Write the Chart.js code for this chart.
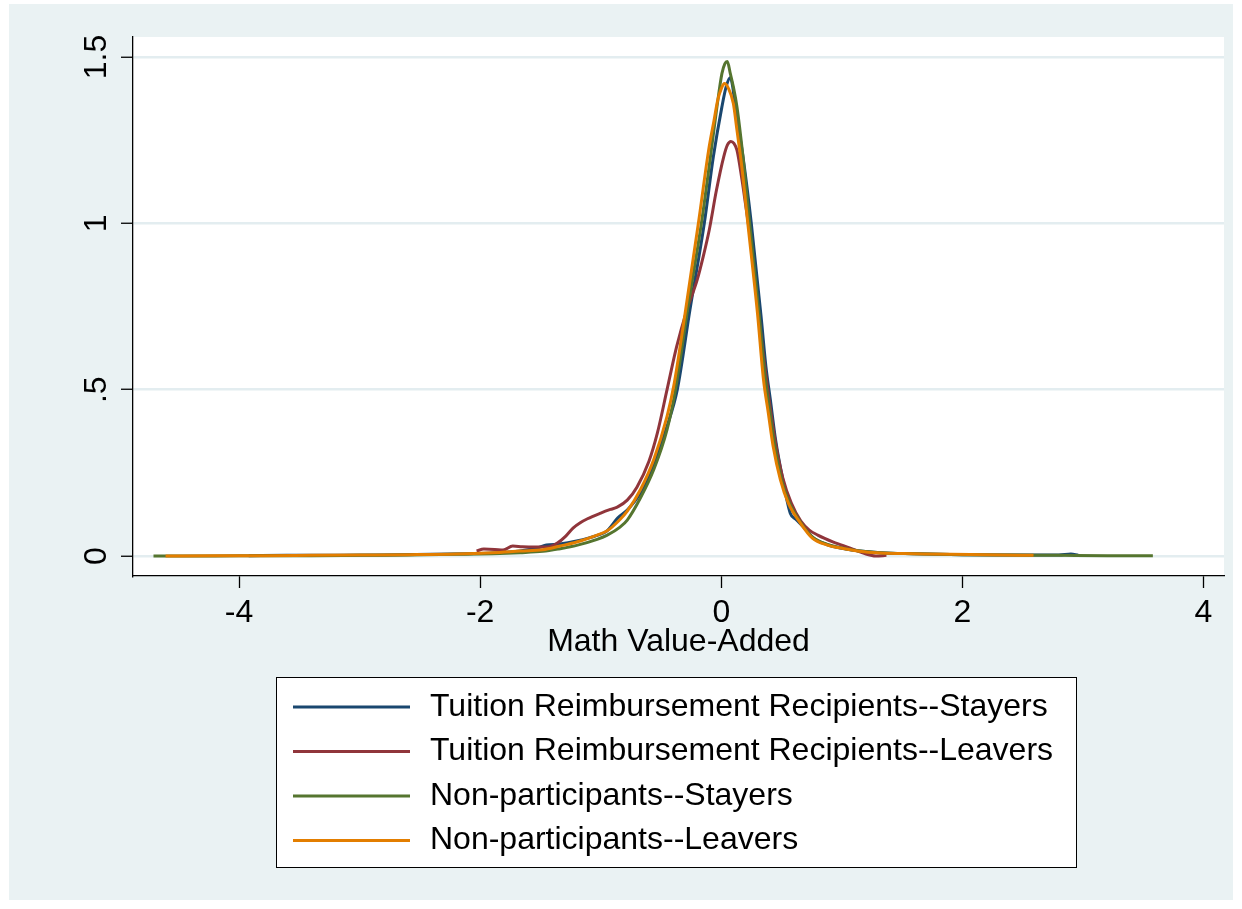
<!DOCTYPE html>
<html>
<head>
<meta charset="utf-8">
<title>Math Value-Added</title>
<script src="https://cdn.jsdelivr.net/npm/chart.js@4.4.1/dist/chart.umd.min.js"></script>
<style>
  html, body { margin: 0; padding: 0; background: #fff; }
  canvas { display: block; }
</style>
</head>
<body>
<canvas id="myChart" width="1242" height="909"></canvas>
<script>
// series names and colours (Stata s2color)
const seriesLabels = [
  'Tuition Reimbursement Recipients--Stayers',
  'Tuition Reimbursement Recipients--Leavers',
  'Non-participants--Stayers',
  'Non-participants--Leavers'
];
const seriesColors = ['#1a476f', '#90353b', '#55752f', '#e37e00'];

// kernel density estimates
const trStayersX = [-3.92, -3.6, -3.2, -2.8, -2.4, -2.1, -1.9, -1.67, -1.52, -1.45, -1.34, -1.2, -1.03, -0.95, -0.86, -0.78, -0.67, -0.56, -0.45, -0.365, -0.26, -0.141, -0.066, 0.005, 0.04, 0.075, 0.095, 0.116, 0.18, 0.249, 0.33, 0.37, 0.407, 0.45, 0.51, 0.573, 0.62, 0.7, 0.76, 0.88, 0.99, 1.13, 1.32, 1.6, 2.0, 2.4, 2.8, 2.9, 2.96];
const trStayersY = [0.001, 0.002, 0.002, 0.003, 0.005, 0.007, 0.009, 0.015, 0.025, 0.033, 0.036, 0.045, 0.062, 0.075, 0.114, 0.138, 0.19, 0.275, 0.39, 0.5, 0.74, 1.0, 1.2, 1.35, 1.41, 1.438, 1.41, 1.35, 1.2, 1.0, 0.72, 0.57, 0.47, 0.35, 0.23, 0.128, 0.11, 0.08, 0.055, 0.034, 0.024, 0.016, 0.01, 0.007, 0.004, 0.003, 0.003, 0.006, 0.003];

const trLeaversX = [-2.03, -1.97, -1.88, -1.81, -1.73, -1.65, -1.55, -1.44, -1.36, -1.29, -1.23, -1.17, -1.11, -1.0, -0.92, -0.863, -0.78, -0.7, -0.6, -0.53, -0.45, -0.37, -0.285, -0.2, -0.15, -0.1, -0.04, 0.02, 0.05, 0.08, 0.105, 0.13, 0.172, 0.2, 0.25, 0.3, 0.35, 0.4, 0.45, 0.51, 0.58, 0.66, 0.73, 0.8, 0.93, 1.07, 1.2, 1.28, 1.37];
const trLeaversY = [0.015, 0.021, 0.02, 0.018, 0.03, 0.028, 0.027, 0.027, 0.039, 0.06, 0.084, 0.1, 0.112, 0.129, 0.14, 0.147, 0.168, 0.207, 0.285, 0.37, 0.5, 0.63, 0.74, 0.83, 0.9, 0.98, 1.1, 1.2, 1.235, 1.246, 1.24, 1.22, 1.13, 1.06, 0.93, 0.76, 0.6, 0.46, 0.34, 0.235, 0.16, 0.105, 0.078, 0.063, 0.042, 0.024, 0.006, 0.0, 0.002];

const nonStayersX = [-4.71, -4.2, -3.8, -3.4, -3.0, -2.6, -2.2, -1.9, -1.67, -1.48, -1.34, -1.2, -1.03, -0.95, -0.84, -0.78, -0.67, -0.56, -0.45, -0.38, -0.28, -0.165, -0.09, -0.036, 0.005, 0.03, 0.05, 0.075, 0.1, 0.13, 0.18, 0.235, 0.31, 0.36, 0.4, 0.44, 0.5, 0.565, 0.66, 0.76, 0.88, 0.99, 1.13, 1.32, 1.6, 2.0, 2.4, 2.8, 3.2, 3.58];
const nonStayersY = [0.0, 0.0, 0.001, 0.001, 0.002, 0.003, 0.005, 0.007, 0.01, 0.014, 0.022, 0.032, 0.05, 0.062, 0.087, 0.108, 0.175, 0.26, 0.38, 0.5, 0.74, 1.0, 1.2, 1.35, 1.45, 1.48, 1.486, 1.45, 1.41, 1.35, 1.2, 1.0, 0.74, 0.55, 0.44, 0.34, 0.23, 0.16, 0.1, 0.056, 0.035, 0.025, 0.016, 0.01, 0.007, 0.004, 0.003, 0.002, 0.001, 0.001];

const nonLeaversX = [-4.61, -4.2, -3.8, -3.4, -3.0, -2.6, -2.2, -1.9, -1.67, -1.48, -1.34, -1.2, -1.03, -0.95, -0.84, -0.78, -0.67, -0.56, -0.45, -0.395, -0.3, -0.19, -0.105, -0.06, -0.03, 0.0, 0.025, 0.06, 0.1, 0.13, 0.17, 0.22, 0.3, 0.35, 0.39, 0.43, 0.49, 0.556, 0.656, 0.755, 0.88, 0.99, 1.13, 1.32, 1.6, 1.9, 2.2, 2.59];
const nonLeaversY = [0.0, 0.001, 0.001, 0.002, 0.003, 0.004, 0.006, 0.01, 0.015, 0.019, 0.03, 0.042, 0.063, 0.075, 0.11, 0.135, 0.2, 0.29, 0.42, 0.51, 0.73, 1.0, 1.22, 1.31, 1.37, 1.405, 1.42, 1.405, 1.36, 1.28, 1.17, 1.0, 0.73, 0.53, 0.43, 0.33, 0.23, 0.159, 0.099, 0.054, 0.033, 0.024, 0.015, 0.009, 0.007, 0.005, 0.004, 0.002];

// axis ticks
const xTickValues = [-4, -2, 0, 2, 4];
const yTickValues = [0, 0.5, 1, 1.5];
const yTickLabels = ['0', '.5', '1', '1.5'];

const fontFamily = "'Liberation Sans', Arial, sans-serif";
const textSize = 32;

function toPoints(xs, ys) {
  return xs.map((x, i) => ({ x: x, y: ys[i] }));
}

const seriesPoints = [
  toPoints(trStayersX, trStayersY),
  toPoints(trLeaversX, trLeaversY),
  toPoints(nonStayersX, nonStayersY),
  toPoints(nonLeaversX, nonLeaversY)
];

// stata draws later series on top
const drawOrder = [3, 2, 1, 0];

const datasets = seriesLabels.map((label, i) => ({
  label: label,
  data: seriesPoints[i],
  borderColor: seriesColors[i],
  backgroundColor: seriesColors[i],
  borderWidth: 3,
  pointRadius: 0,
  fill: false,
  cubicInterpolationMode: 'monotone',
  order: drawOrder[i]
}));

// light panel behind the white plot region
const panelPlugin = {
  id: 'panel',
  beforeDraw(chart) {
    const ctx = chart.ctx;
    const area = chart.chartArea;
    ctx.save();
    ctx.fillStyle = '#ffffff';
    ctx.fillRect(0, 0, chart.width, chart.height);
    ctx.fillStyle = '#eaf2f3';
    ctx.fillRect(9, 4, chart.width - 18, chart.height - 13);
    ctx.fillStyle = '#ffffff';
    ctx.fillRect(area.left, area.top, area.right - area.left, area.bottom - area.top);
    ctx.restore();
  }
};

// boxed legend in one column under the plot
const boxLegendPlugin = {
  id: 'boxLegend',
  afterDraw(chart) {
    const ctx = chart.ctx;
    ctx.save();
    ctx.fillStyle = '#ffffff';
    ctx.fillRect(276, 677, 801, 191);
    ctx.strokeStyle = '#000000';
    ctx.lineWidth = 1;
    ctx.strokeRect(276.5, 677.5, 800, 190);

    ctx.font = textSize + 'px ' + fontFamily;
    ctx.textBaseline = 'middle';
    ctx.textAlign = 'left';
    chart.data.datasets.forEach((ds, i) => {
      const y = 707 + i * 44.5;
      ctx.strokeStyle = ds.borderColor;
      ctx.lineWidth = 3;
      ctx.beginPath();
      ctx.moveTo(293, y);
      ctx.lineTo(410, y);
      ctx.stroke();
      ctx.fillStyle = '#000000';
      ctx.fillText(ds.label, 430, y);
    });
    ctx.restore();
  }
};

const ctx = document.getElementById('myChart').getContext('2d');
const chart = new Chart(ctx, {
  type: 'line',
  data: { datasets: datasets },
  options: {
    responsive: false,
    animation: false,
    layout: { padding: { left: 9, right: 18, top: 37, bottom: 251 } },
    plugins: {
      legend: { display: false },
      tooltip: { enabled: false }
    },
    scales: {
      x: {
        type: 'linear',
        min: -4.88,
        max: 4.17,
        afterBuildTicks: (scale) => { scale.ticks = xTickValues.map(v => ({ value: v })); },
        afterFit: (scale) => { scale.height = 82; },
        grid: {
          drawOnChartArea: false,
          drawTicks: true,
          tickLength: 12,
          tickColor: '#000000',
          tickWidth: 1.3
        },
        border: { display: true, color: '#000000', width: 1.3 },
        ticks: {
          color: '#000000',
          padding: 9,
          maxRotation: 0,
          font: { family: fontFamily, size: textSize, lineHeight: 1 },
          callback: (value) => String(value)
        },
        title: {
          display: true,
          text: 'Math Value-Added',
          color: '#000000',
          padding: 0,
          font: { family: fontFamily, size: textSize, lineHeight: 1 }
        }
      },
      y: {
        type: 'linear',
        min: -0.06,
        max: 1.56,
        afterBuildTicks: (scale) => { scale.ticks = yTickValues.map(v => ({ value: v })); },
        afterFit: (scale) => { scale.width = 124; },
        grid: {
          color: '#e3edf0',
          lineWidth: 2.5,
          drawTicks: true,
          tickLength: 12,
          tickColor: '#000000',
          tickWidth: 1.3
        },
        border: { display: true, color: '#000000', width: 1.3 },
        ticks: {
          color: '#000000',
          padding: 2,
          minRotation: 90,
          maxRotation: 90,
          crossAlign: 'center',
          font: { family: fontFamily, size: textSize, lineHeight: 1 },
          callback: (value) => yTickLabels[yTickValues.indexOf(value)]
        }
      }
    }
  },
  plugins: [panelPlugin, boxLegendPlugin]
});
</script>
</body>
</html>
